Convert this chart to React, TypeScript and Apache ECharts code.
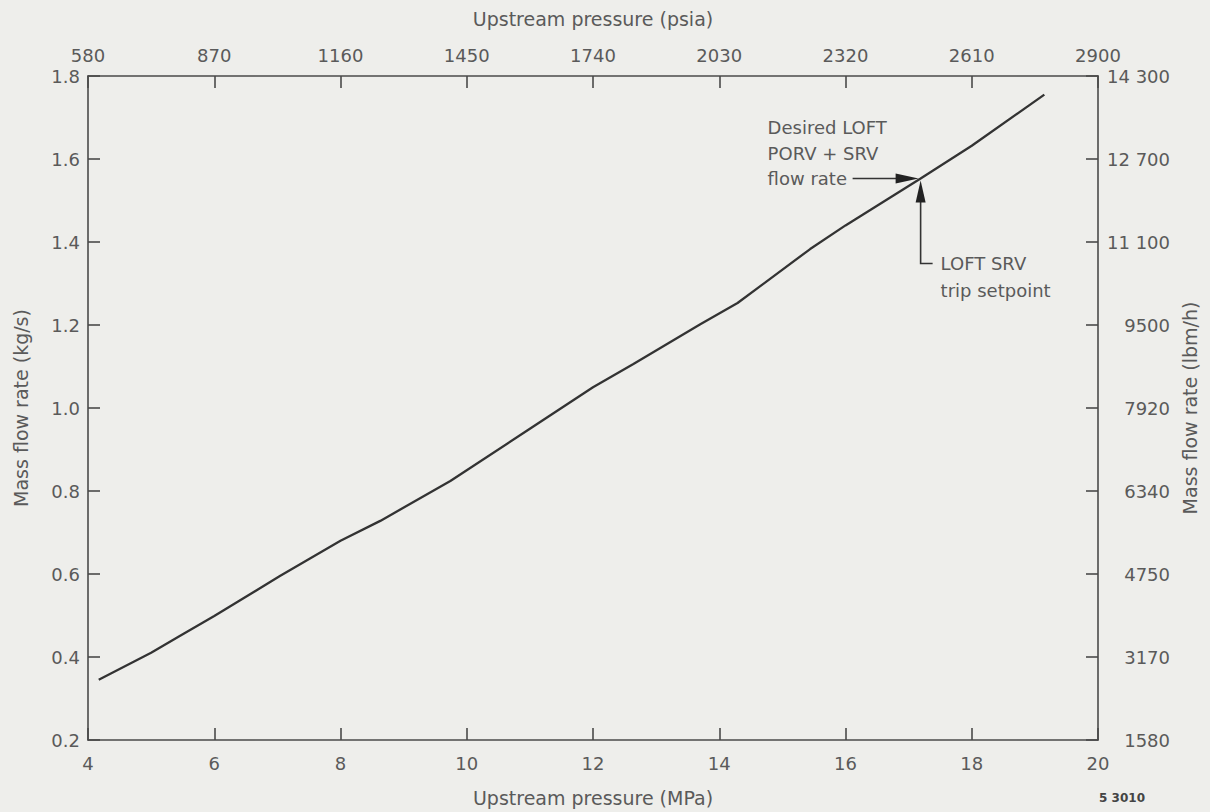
import React, { useEffect, useRef } from "react";
import * as echarts from "echarts";

const PRESSURE_MPA = [4.17, 5.0, 5.46, 6.0, 7.04, 8.0, 8.63, 9.74, 11.0, 12.0, 12.64, 13.7, 14.29, 15.44, 16.0, 17.19, 18.0, 19.15];
const FLOW_KGS = [0.345, 0.41, 0.451, 0.499, 0.595, 0.68, 0.728, 0.824, 0.95, 1.05, 1.106, 1.202, 1.253, 1.383, 1.44, 1.553, 1.632, 1.755];
const RIGHT_LABELS = ["1580", "3170", "4750", "6340", "7920", "9500", "11 100", "12 700", "14 300"];
const SETPOINT = [17.19, 1.553];
const DESIRED_LINES = ["Desired LOFT", "PORV + SRV", "flow rate"];
const SRV_LINES = ["LOFT SRV", "trip setpoint"];

const FONT = "DejaVu Sans";
const TXT = "#5a5a5a";
const AX = "#4a4a4a";

export default function App() {
  const ref = useRef<HTMLDivElement>(null);
  useEffect(() => {
    const chart = echarts.init(ref.current!, null, { renderer: "svg" });
    const axisCommon = {
      axisLine: { show: true, onZero: false, lineStyle: { color: AX, width: 1.6 } },
      axisTick: { show: true, inside: true, length: 12, lineStyle: { color: AX, width: 1.6 } },
      splitLine: { show: false },
      nameTextStyle: { color: TXT, fontFamily: FONT, fontSize: 19 },
    };
    const labelStyle = { color: TXT, fontFamily: FONT, fontSize: 18 };
    chart.setOption({
      animation: false,
      backgroundColor: "#eeeeeb",
      grid: { left: 88, right: 112, top: 76, bottom: 71 },
      xAxis: [
        {
          type: "value", position: "bottom", min: 4, max: 20, interval: 2,
          name: "Upstream pressure (MPa)", nameLocation: "middle", nameGap: 48,
          ...axisCommon,
          axisLabel: { ...labelStyle, margin: 14, formatter: (v: number) => String(Math.round(v)) },
        },
        {
          type: "value", position: "top", min: 580, max: 2900, interval: 290,
          name: "Upstream pressure (psia)", nameLocation: "middle", nameGap: 48,
          ...axisCommon,
          axisLabel: { ...labelStyle, margin: 12, formatter: (v: number) => String(Math.round(v)) },
        },
      ],
      yAxis: [
        {
          type: "value", position: "left", min: 0.2, max: 1.8, interval: 0.2,
          name: "Mass flow rate (kg/s)", nameLocation: "middle", nameGap: 58, nameRotate: 90,
          ...axisCommon,
          axisLabel: { ...labelStyle, margin: 8, formatter: (v: number) => v.toFixed(1) },
        },
        {
          type: "value", position: "right", min: 0.2, max: 1.8, interval: 0.2,
          name: "Mass flow rate (lbm/h)", nameLocation: "middle", nameGap: 82, nameRotate: 90,
          ...axisCommon,
          axisLabel: {
            ...labelStyle, margin: 72, align: "right",
            formatter: (v: number) => RIGHT_LABELS[Math.round((v - 0.2) / 0.2)] ?? "",
          },
        },
      ],
      series: [
        {
          type: "line", xAxisIndex: 0, yAxisIndex: 0,
          data: PRESSURE_MPA.map((p, i) => [p, FLOW_KGS[i]]),
          showSymbol: false, smooth: false,
          lineStyle: { color: "#333", width: 2.3 },
        },
      ],
    });

    const [px, py] = chart.convertToPixel({ xAxisIndex: 0, yAxisIndex: 0 }, SETPOINT) as number[];
    const textStyle = { fill: TXT, font: `18px "${FONT}"` };
    const lineStyle = { stroke: "#333", lineWidth: 1.6 };
    chart.setOption({
      graphic: [
        ...DESIRED_LINES.map((t, i) => ({
          type: "text", x: px - 153, y: py - 51 + i * 25.5,
          style: { ...textStyle, text: t, verticalAlign: "middle" },
        })),
        { type: "line", shape: { x1: px - 68, y1: py, x2: px - 20, y2: py }, style: lineStyle },
        { type: "polygon", shape: { points: [[px - 2, py], [px - 25, py - 5], [px - 25, py + 5]] }, style: { fill: "#222" } },
        { type: "polyline", shape: { points: [[px, py + 20], [px, py + 85], [px + 12, py + 85]] }, style: { ...lineStyle, fill: null } },
        { type: "polygon", shape: { points: [[px, py + 2], [px - 5, py + 24], [px + 5, py + 24]] }, style: { fill: "#222" } },
        ...SRV_LINES.map((t, i) => ({
          type: "text", x: px + 20, y: py + 85 + i * 27,
          style: { ...textStyle, text: t, verticalAlign: "middle" },
        })),
        {
          type: "text", right: 65, bottom: 8,
          style: { text: "5 3010", fill: "#444", font: `bold 12px "${FONT}"` },
        },
      ],
    });
    return () => chart.dispose();
  }, []);
  return <div ref={ref} style={{ position: "fixed", left: 0, top: 0, width: 1210, height: 812 }} />;
}
